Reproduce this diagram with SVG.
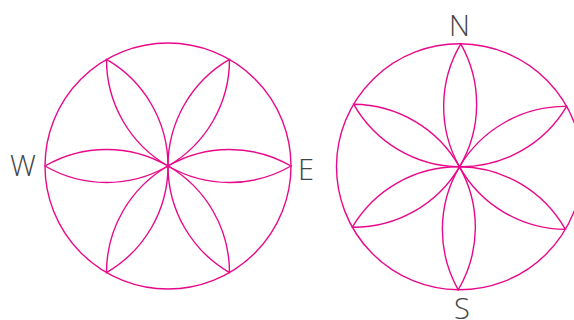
<svg xmlns="http://www.w3.org/2000/svg" width="574" height="320" viewBox="0 0 574 320">
<style>
.l{fill:none;stroke:#e8088a;stroke-width:1.4}
.t{font-family:"Open Sans","Liberation Sans",sans-serif;font-weight:300;font-size:29px;fill:#444}
</style>
<rect width="574" height="320" fill="#fff"/>
<g id="rose-left">
<circle class="l" cx="168" cy="166" r="123"/>
<path class="l" d="M168 166 A123 123 0 0 1 291 166 A123 123 0 0 1 168 166 Z"/>
<path class="l" d="M168 166 A123 123 0 0 1 229.5 272.52 A123 123 0 0 1 168 166 Z"/>
<path class="l" d="M168 166 A123 123 0 0 1 106.5 272.52 A123 123 0 0 1 168 166 Z"/>
<path class="l" d="M168 166 A123 123 0 0 1 45 166 A123 123 0 0 1 168 166 Z"/>
<path class="l" d="M168 166 A123 123 0 0 1 106.5 59.48 A123 123 0 0 1 168 166 Z"/>
<path class="l" d="M168 166 A123 123 0 0 1 229.5 59.48 A123 123 0 0 1 168 166 Z"/>
</g>
<g id="rose-right" transform="rotate(0.6 459.5 166.8)">
<circle class="l" cx="459.5" cy="166.8" r="123"/>
<path class="l" d="M459.5 166.8 A123 123 0 0 1 566.02 228.3 A123 123 0 0 1 459.5 166.8 Z"/>
<path class="l" d="M459.5 166.8 A123 123 0 0 1 459.5 289.8 A123 123 0 0 1 459.5 166.8 Z"/>
<path class="l" d="M459.5 166.8 A123 123 0 0 1 352.98 228.3 A123 123 0 0 1 459.5 166.8 Z"/>
<path class="l" d="M459.5 166.8 A123 123 0 0 1 352.98 105.3 A123 123 0 0 1 459.5 166.8 Z"/>
<path class="l" d="M459.5 166.8 A123 123 0 0 1 459.5 43.8 A123 123 0 0 1 459.5 166.8 Z"/>
<path class="l" d="M459.5 166.8 A123 123 0 0 1 566.02 105.3 A123 123 0 0 1 459.5 166.8 Z"/>
</g>
<g id="labels">
<text class="t" x="10" y="176">W</text>
<text class="t" x="298" y="180">E</text>
<text class="t" x="449" y="36">N</text>
<text class="t" x="454" y="319">S</text>
</g>
</svg>
